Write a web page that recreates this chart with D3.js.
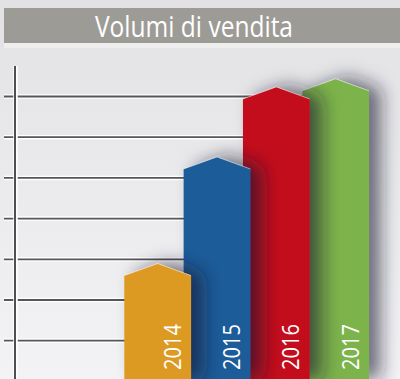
<!DOCTYPE html>
<html>
<head>
<meta charset="utf-8">
<script src="https://cdn.jsdelivr.net/npm/d3@7/dist/d3.min.js"></script>
<style>
  html, body { margin: 0; padding: 0; background: #e8e8ea; }
  svg { display: block; }
</style>
</head>
<body>
<svg id="chart" width="400" height="379"></svg>
<script>
const title = "Volumi di vendita";
const years = ["2014", "2015", "2016", "2017"];
const values = [2.6, 5.22, 6.94, 7.14];
const barColors = ["#dc9a21", "#1f5c99", "#c30f1c", "#7db34b"];
const gridTicks = [1, 2, 3, 4, 5, 6, 7];

const W = 400, H = 379;
const svg = d3.select("#chart");
const defs = svg.append("defs");

const bg = defs.append("linearGradient").attr("id", "bg")
  .attr("x1", 0).attr("y1", 0).attr("x2", 0).attr("y2", 1);
bg.append("stop").attr("offset", "0%").attr("stop-color", "#e2e2e4");
bg.append("stop").attr("offset", "100%").attr("stop-color", "#f3f3f5");

const sh = defs.append("filter").attr("id", "shadow")
  .attr("x", "-30%").attr("y", "-20%").attr("width", "180%").attr("height", "140%");
sh.append("feGaussianBlur").attr("in", "SourceAlpha").attr("stdDeviation", 9).attr("result", "b");
sh.append("feOffset").attr("in", "b").attr("dx", 12).attr("dy", -2).attr("result", "o");
sh.append("feFlood").attr("flood-color", "#1a1a30").attr("flood-opacity", 0.6).attr("result", "f");
sh.append("feComposite").attr("in", "f").attr("in2", "o").attr("operator", "in").attr("result", "s");
const m = sh.append("feMerge");
m.append("feMergeNode").attr("in", "s");
m.append("feMergeNode").attr("in", "SourceGraphic");

svg.append("rect").attr("width", W).attr("height", H).attr("fill", "url(#bg)");

// title bar
svg.append("rect").attr("x", 4).attr("y", 43).attr("width", 396).attr("height", 5).attr("fill", "#eeeeef");
svg.append("rect").attr("x", 4).attr("y", 8).attr("width", 396).attr("height", 35).attr("fill", "#9d9b96");
svg.append("text").text(title)
  .attr("x", 194).attr("y", 36.5)
  .attr("text-anchor", "middle")
  .attr("font-family", "'Open Sans', sans-serif")
  .attr("font-size", 29)
  .attr("fill", "#ffffff")
  .attr("textLength", 198).attr("lengthAdjust", "spacingAndGlyphs");

const y = d3.scaleLinear().domain([0, 8]).range([381.4, 55.8]);
const x = d3.scaleBand().domain(years).range([124.3, 361.6]).padding(0);
const barW = x.step() * 1.125;
const cap = 12;

// grid lines
const grid = svg.append("g");
grid.selectAll("line.hl").data(gridTicks).join("line").attr("class", "hl")
  .attr("x1", 4).attr("x2", 330).attr("y1", d => y(d)).attr("y2", d => y(d))
  .attr("stroke", "#ffffff").attr("stroke-width", 4.5);
grid.selectAll("line.dk").data(gridTicks).join("line").attr("class", "dk")
  .attr("x1", 4).attr("x2", 330).attr("y1", d => y(d)).attr("y2", d => y(d))
  .attr("stroke", "#565656").attr("stroke-width", 1.8);

// vertical axis
svg.append("line").attr("x1", 15.5).attr("x2", 15.5).attr("y1", 66).attr("y2", H)
  .attr("stroke", "#ffffff").attr("stroke-width", 4.5);
svg.append("line").attr("x1", 15).attr("x2", 15).attr("y1", 66).attr("y2", H)
  .attr("stroke", "#4f4f4f").attr("stroke-width", 2);

// bars (drawn back to front)
const data = years.map((yr, i) => ({ yr, v: values[i], c: barColors[i] }));
const bars = svg.append("g").selectAll("g.bar").data(data.slice().reverse()).join("g").attr("class", "bar");

bars.append("path")
  .attr("d", d => {
    const l = x(d.yr), r = l + barW, t = y(d.v), b = y(0);
    return `M${l},${b}L${l},${t}L${(l + r) / 2},${t - cap}L${r},${t}L${r},${b}Z`;
  })
  .attr("fill", d => d.c)
  .attr("filter", "url(#shadow)");

bars.append("path")
  .attr("d", d => {
    const l = x(d.yr), r = l + barW, t = y(d.v);
    return `M${l},${t}L${(l + r) / 2},${t - cap}L${r},${t}`;
  })
  .attr("fill", "none").attr("stroke", "#ffffff").attr("stroke-opacity", 0.5).attr("stroke-width", 1);

bars.append("text").text(d => d.yr)
  .attr("transform", d => `translate(${x(d.yr) + 56.5},370) rotate(-90)`)
  .attr("font-family", "'Open Sans', sans-serif")
  .attr("font-size", 23)
  .attr("fill", "#ffffff")
  .attr("textLength", 46).attr("lengthAdjust", "spacingAndGlyphs");
</script>
</body>
</html>
